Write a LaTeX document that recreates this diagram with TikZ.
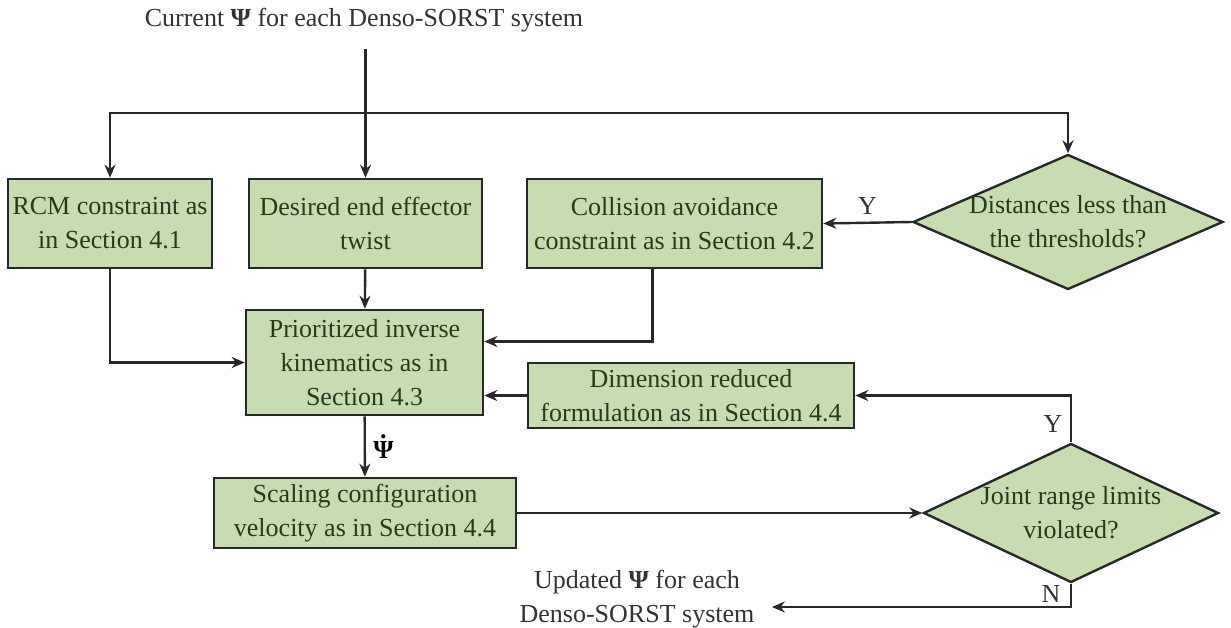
\documentclass[tikz,border=0pt]{standalone}
\usepackage{fontspec}
\setmainfont{Liberation Serif}
\usepackage{xcolor}
\usepackage{tikz}
\usetikzlibrary{positioning,arrows.meta,calc,shapes.geometric}

\definecolor{boxfill}{RGB}{199,221,177}
\definecolor{boxtext}{RGB}{38,58,30}
\definecolor{linegray}{RGB}{40,40,40}
\newcommand{\psidot}{\textbf{\ooalign{\hidewidth\raisebox{0.8em}{.}\hidewidth\cr Ψ}}}

\begin{document}
\begin{tikzpicture}[
  x=1pt,y=-1pt,
  font=\fontsize{26}{34}\selectfont,
  blk/.style  ={draw=linegray,line width=2.6pt,fill=boxfill,text=boxtext,align=center,inner sep=2pt},
  ask/.style  ={diamond,draw=linegray,line width=2.4pt,fill=boxfill,inner sep=0pt,aspect=2.3},
  txt/.style  ={text=black!80,align=center},
  arrow/.style={-{Stealth[length=13pt,width=11pt]},line width=2.4pt,linegray}
]
\useasboundingbox (0,0) rectangle (1231,628);
% input and output texts
\node[txt] (cur) at (364,20) {Current \textbf{Ψ} for each Denso-SORST system};
\node[txt] (upd) at (637,599) {Updated \textbf{Ψ} for each\\Denso-SORST system};
% top row
\node[blk,minimum width=204,minimum height=89] (rcm) at (110,223.5) {RCM constraint as\\in Section 4.1};
\node[blk,minimum width=233,minimum height=89] (des) at (365.5,223.5) {Desired end effector\\twist};
\node[blk,minimum width=295,minimum height=89] (col) at (674.5,223.5) {Collision avoidance\\constraint as in Section 4.2};
\node[ask,minimum width=310,minimum height=135,
      label={[text=boxtext,align=center]center:Distances less than\\the thresholds?}] (dist) at (1068,222) {};
% middle and bottom
\node[blk,minimum width=237,minimum height=105] (pik) at (364.5,362.5) {Prioritized inverse\\kinematics as in\\Section 4.3};
\node[blk,minimum width=326,minimum height=65] (dim) at (691,395.5) {Dimension reduced\\formulation as in Section 4.4};
\node[blk,minimum width=302,minimum height=70] (scl) at (365,513) {Scaling configuration\\velocity as in Section 4.4};
\node[ask,minimum width=295,minimum height=139,
      label={[text=boxtext,align=center]center:Joint range limits\\violated?}] (jnt) at (1071,513) {};
\coordinate (split) at (365.5,113);

\draw[arrow,shorten <=14pt] (cur.south -| des.north) -- (des.north);
\draw[arrow] (split) -| (rcm.north);
\draw[arrow] (split) -| (dist.north);
\draw[arrow] (dist.west) -- (col.east) node[midway,above=4pt,text=black!80] {Y};
\draw[arrow] (des) -- (pik);
\draw[arrow] (rcm.south) |- (pik.west);
\draw[arrow] ([xshift=-22pt]col.south) |- ([yshift=21pt]pik.east);
\draw[arrow] (dim.west) -- (dim.west -| pik.east);
\draw[arrow] (pik) -- (scl) node[midway,right=4pt,text=black] {\psidot};
\draw[arrow] (scl) -- (jnt);
\draw[arrow] (jnt.north) |- (dim.east) node[pos=0.2,left=4pt,text=black!80] {Y};
\draw[arrow] (jnt.south) |- ([xshift=14pt,yshift=-8pt]upd.east) node[pos=0.22,left=6pt,text=black!80] {N};
\end{tikzpicture}
\end{document}
